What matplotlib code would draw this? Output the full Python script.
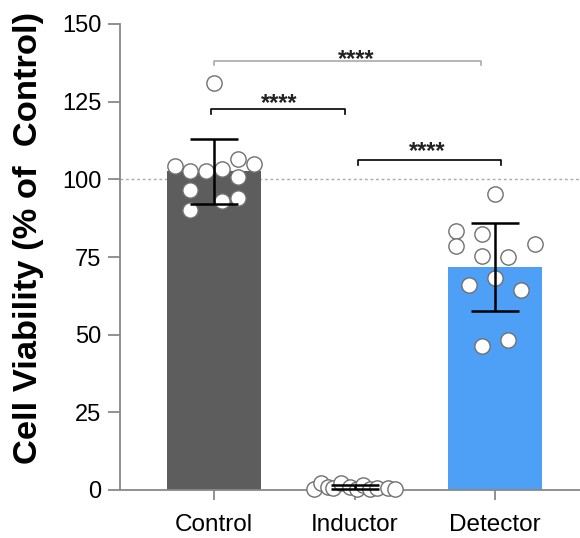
import numpy as np
import matplotlib
matplotlib.use("Agg")
import matplotlib.pyplot as plt

plt.rcParams['font.family'] = ['Liberation Sans', 'DejaVu Sans']

# ---- data ----
categories = ["Control", "Inductor", "Detector"]
control_vals = [131.1, 104.3, 102.7, 102.8, 103.3, 106.5, 105.0, 100.8, 96.7, 93.0, 94.1, 90.1]
inductor_vals = [0.3, 2.4, 1.0, 0.6, 2.1, 0.9, 0.4, 1.6, 0.2, 0.8, 0.5, 0.2]
detector_vals = [95.3, 83.4, 82.4, 78.5, 79.2, 75.3, 75.1, 68.3, 66.0, 64.4, 46.3, 48.3]
sig_labels = ["****", "****", "****"]
yticks = [0, 25, 50, 75, 100, 125, 150]

# ---- layout (horizontal point placement within each column) ----
control_off = [0.0, -0.281, -0.172, -0.058, 0.058, 0.172, 0.286, 0.172, -0.172, 0.058, 0.172, -0.172]
inductor_off = [-0.29, -0.24, -0.19, -0.15, -0.10, -0.03, 0.02, 0.06, 0.11, 0.16, 0.235, 0.29]
detector_off = [0.0, -0.28, -0.095, -0.28, 0.285, -0.095, 0.093, 0.0, -0.185, 0.188, -0.095, 0.093]

groups = [control_vals, inductor_vals, detector_vals]
offsets = [control_off, inductor_off, detector_off]
colors = ["#5d5d5d", "#9a6a4a", "#4da0f5"]

fig = plt.figure(figsize=(5.8, 5.38), dpi=100)
ax = fig.add_axes([120/580, 48/538, 1 - 120/580, (490-24)/538])

x = np.arange(len(categories))
means = [np.mean(g) for g in groups]
sds = [np.std(g, ddof=1) for g in groups]

ax.bar(x, means, width=0.67, color=colors, zorder=2)
ax.axhline(100, color="#aaaaaa", linestyle=(0, (2, 2)), linewidth=1.0, zorder=1)

for i, (g, off) in enumerate(zip(groups, offsets)):
    ax.plot(i + np.array(off), g, 'o', ms=11, mfc='white', mec='#707070',
            mew=1.0, zorder=3, clip_on=False)

ax.errorbar(x, means, yerr=sds, fmt='none', ecolor='black', elinewidth=1.8,
            capsize=17, capthick=1.8, zorder=4)

# significance brackets
def bracket(x1, x2, y, drop, color, txt, tx, ty):
    ax.plot([x1, x1, x2, x2], [y - drop, y, y, y - drop], color=color, lw=1.2,
            zorder=5, clip_on=False)
    ax.text(tx, ty, txt, ha='center', va='center', fontsize=17, fontweight='bold',
            color='#222222')

bracket(0.0, 1.898, 138.0, 1.3, '#aaaaaa', sig_labels[0], 1.01, 138.7)
bracket(-0.02, 0.929, 122.6, 1.6, 'black', sig_labels[1], 0.46, 124.3)
bracket(1.022, 2.04, 106.2, 1.6, 'black', sig_labels[2], 1.52, 108.9)

ax.set_xlim(-0.67, 2.605)
ax.set_ylim(0, 150)
ax.set_yticks(yticks)
ax.set_xticks(x)
ax.set_xticklabels(categories, fontsize=17.5)
ax.tick_params(axis='y', labelsize=17, length=8.5, width=1.3, color='#888888', pad=5)
ax.tick_params(axis='x', length=7, width=1.3, color='#888888', pad=10)

for s in ['top', 'right']:
    ax.spines[s].set_visible(False)
for s in ['left', 'bottom']:
    ax.spines[s].set_color('#888888')
    ax.spines[s].set_linewidth(1.3)

ax.set_ylabel("Cell Viability (% of  Control)", fontsize=24.8, fontweight='bold')
ax.yaxis.set_label_coords(-0.165, 0.541)

fig.savefig("out.png", dpi=100)
